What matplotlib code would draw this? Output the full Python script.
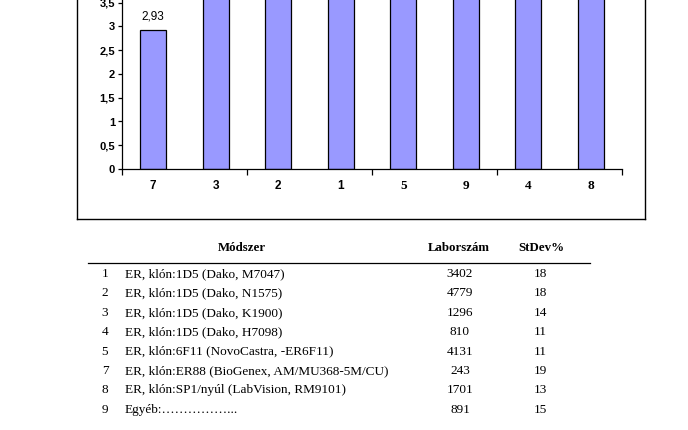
import matplotlib
matplotlib.use("Agg")
import matplotlib.pyplot as plt
from matplotlib.lines import Line2D

# adatok
kategoriak = ["7", "3", "2", "1", "5", "9", "4", "8"]
ertekek = [2.93, 3.95, 4.05, 4.15, 4.3, 4.45, 4.6, 4.8]
y_tickek = [0, 0.5, 1, 1.5, 2, 2.5, 3, 3.5]

sor_szam = ["1", "2", "3", "4", "5", "7", "8", "9"]
modszer = ["ER, klón:1D5 (Dako, M7047)",
           "ER, klón:1D5 (Dako, N1575)",
           "ER, klón:1D5 (Dako, K1900)",
           "ER, klón:1D5 (Dako, H7098)",
           "ER, klón:6F11 (NovoCastra, -ER6F11)",
           "ER, klón:ER88 (BioGenex, AM/MU368-5M/CU)",
           "ER, klón:SP1/nyúl (LabVision, RM9101)",
           "Egyéb:……………..."]
laborszam = [3402, 4779, 1296, 810, 4131, 243, 1701, 891]
stdev = [18, 18, 14, 11, 11, 19, 13, 15]

W, H = 688, 430
fig = plt.figure(figsize=(W / 100, H / 100), dpi=100)

# tengely: 0 -> y=169 px, 47.5 px / egység
px_per = 47.5
ymax = 5.0
lathato = 169 / px_per  # ami a kép tetejéig látszik
ax = fig.add_axes([122 / W, (H - 169) / H, 500 / W, ymax * px_per / H])
x = range(len(kategoriak))
ax.bar(x, ertekek, width=0.41, color="#9999FF", edgecolor="black", linewidth=0.9)
ax.set_xlim(-0.5, len(kategoriak) - 0.5)
ax.set_ylim(0, ymax)
ax.set_yticks(y_tickek)
ax.set_yticklabels([str(v).replace(".", ",") for v in y_tickek],
                   fontfamily="Liberation Sans", fontweight="bold", fontsize=8)
ax.set_xticks([i - 0.5 for i in range(0, len(kategoriak) + 1, 2)])
ax.set_xticklabels([])
ax.tick_params(axis="x", length=4, width=0.9, direction="out")
ax.tick_params(axis="y", length=3, width=0.9, direction="out", pad=2)
for i, k in enumerate(kategoriak):
    fam = "Liberation Sans" if i < 4 else "Liberation Serif"
    ax.text(i, -0.36, k, ha="center", va="center", fontsize=8.5 if i < 4 else 9.5,
            fontweight="bold", fontfamily=fam)
for sp in ["top", "right"]:
    ax.spines[sp].set_visible(False)
for sp in ["left", "bottom"]:
    ax.spines[sp].set_linewidth(0.9)
for i, v in enumerate(ertekek):
    if v + 0.45 < lathato:
        ax.text(i, v + 0.29, f"{v:.2f}".replace(".", ","), ha="center", va="center",
                fontfamily="Liberation Sans", fontsize=8.5)

# diagram keret
def fx(px):
    return px / W

def fy(py):
    return 1 - py / H

keret = dict(color="black", linewidth=1.0, transform=fig.transFigure)
fig.add_artist(Line2D([fx(77), fx(77)], [fy(-2), fy(219)], **keret))
fig.add_artist(Line2D([fx(645), fx(645)], [fy(-2), fy(219)], **keret))
fig.add_artist(Line2D([fx(77), fx(645)], [fy(219), fy(219)], **keret))

# táblázat
serif = "Liberation Serif"
fig.text(fx(242), fy(248), "Módszer", ha="center", va="center",
         fontfamily=serif, fontweight="bold", fontsize=9.3)
fig.text(fx(459), fy(248), "Laborszám", ha="center", va="center",
         fontfamily=serif, fontweight="bold", fontsize=9.3)
fig.text(fx(541), fy(248), "StDev%", ha="center", va="center",
         fontfamily=serif, fontweight="bold", fontsize=9.3)
fig.add_artist(Line2D([fx(88), fx(590)], [fy(263), fy(263)], color="black",
                      linewidth=0.9, transform=fig.transFigure))
for j in range(len(sor_szam)):
    y = fy(274 + j * 19.4)
    fig.text(fx(105), y, sor_szam[j], ha="center", va="center", fontfamily=serif, fontsize=9.5)
    fig.text(fx(125), y, modszer[j], ha="left", va="center", fontfamily=serif, fontsize=9.5)
    fig.text(fx(460), y, str(laborszam[j]), ha="center", va="center", fontfamily=serif, fontsize=9.5)
    fig.text(fx(540), y, str(stdev[j]), ha="center", va="center", fontfamily=serif, fontsize=9.5)

fig.savefig("out.png", dpi=100)
